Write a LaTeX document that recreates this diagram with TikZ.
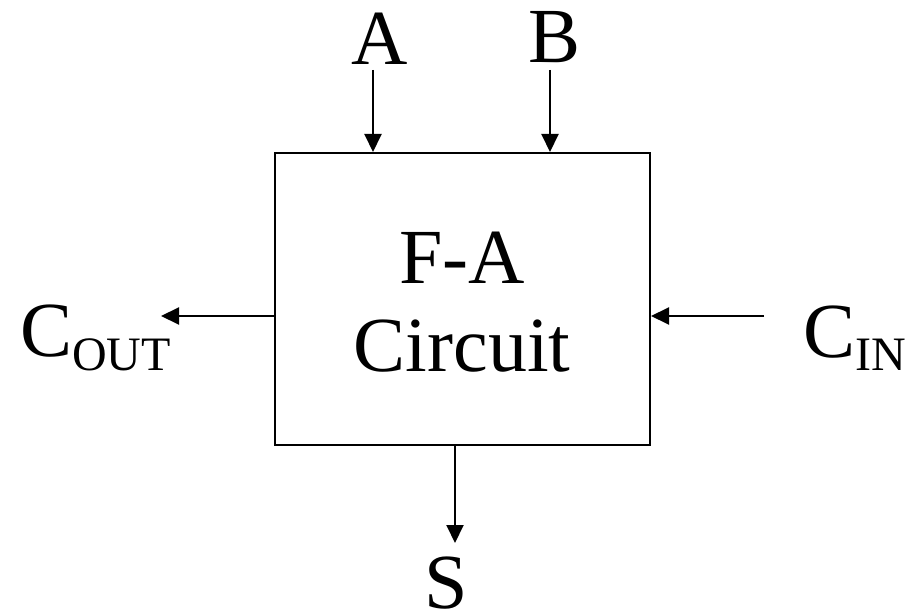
\documentclass[tikz,border=0pt]{standalone}
\usepackage{fontspec}
\setmainfont{Liberation Serif}
\usetikzlibrary{arrows.meta}
\newcommand{\bigf}{\fontsize{78}{80}\selectfont}
\newcommand{\subf}{\fontsize{48}{50}\selectfont}
\begin{document}
\begin{tikzpicture}[x=1pt,y=-1pt,
  lbl/.style={inner sep=0pt, outer sep=0pt, font=\bigf},
  conn/.style={line width=2pt, -{Triangle[length=18pt,width=17pt]}}]
\useasboundingbox (0,0) rectangle (919,615);
\node[draw, line width=2pt, minimum width=375pt, minimum height=292pt, inner sep=0pt] (box) at (462.5,299) {};
\node[lbl, anchor=base] (fa) at (462,283) {F-A};
\node[lbl, anchor=base] (circ) at (462,371) {Circuit};
\node[lbl, anchor=base] (A) at (380,65) {A};
\node[lbl, anchor=base] (B) at (555,63) {B};
\node[lbl, anchor=base] (S) at (446,608) {S};
\node[lbl, anchor=base west] (cout) at (20,356) {C\raisebox{-14pt}{\subf OUT}};
\node[lbl, anchor=base west] (cin) at (803,357) {C\raisebox{-13pt}{\subf IN}};
\coordinate (a0) at (373,70);
\coordinate (b0) at (550,70);
\coordinate (coutend) at (161,316);
\coordinate (cin0) at (764,316);
\coordinate (send) at (455,543);
\draw[conn] (a0) -- (a0 |- box.north);
\draw[conn] (b0) -- (b0 |- box.north);
\draw[conn] (box.west |- coutend) -- (coutend);
\draw[conn] (cin0) -- (box.east |- cin0);
\draw[conn] (send |- box.south) -- (send);
\end{tikzpicture}
\end{document}
